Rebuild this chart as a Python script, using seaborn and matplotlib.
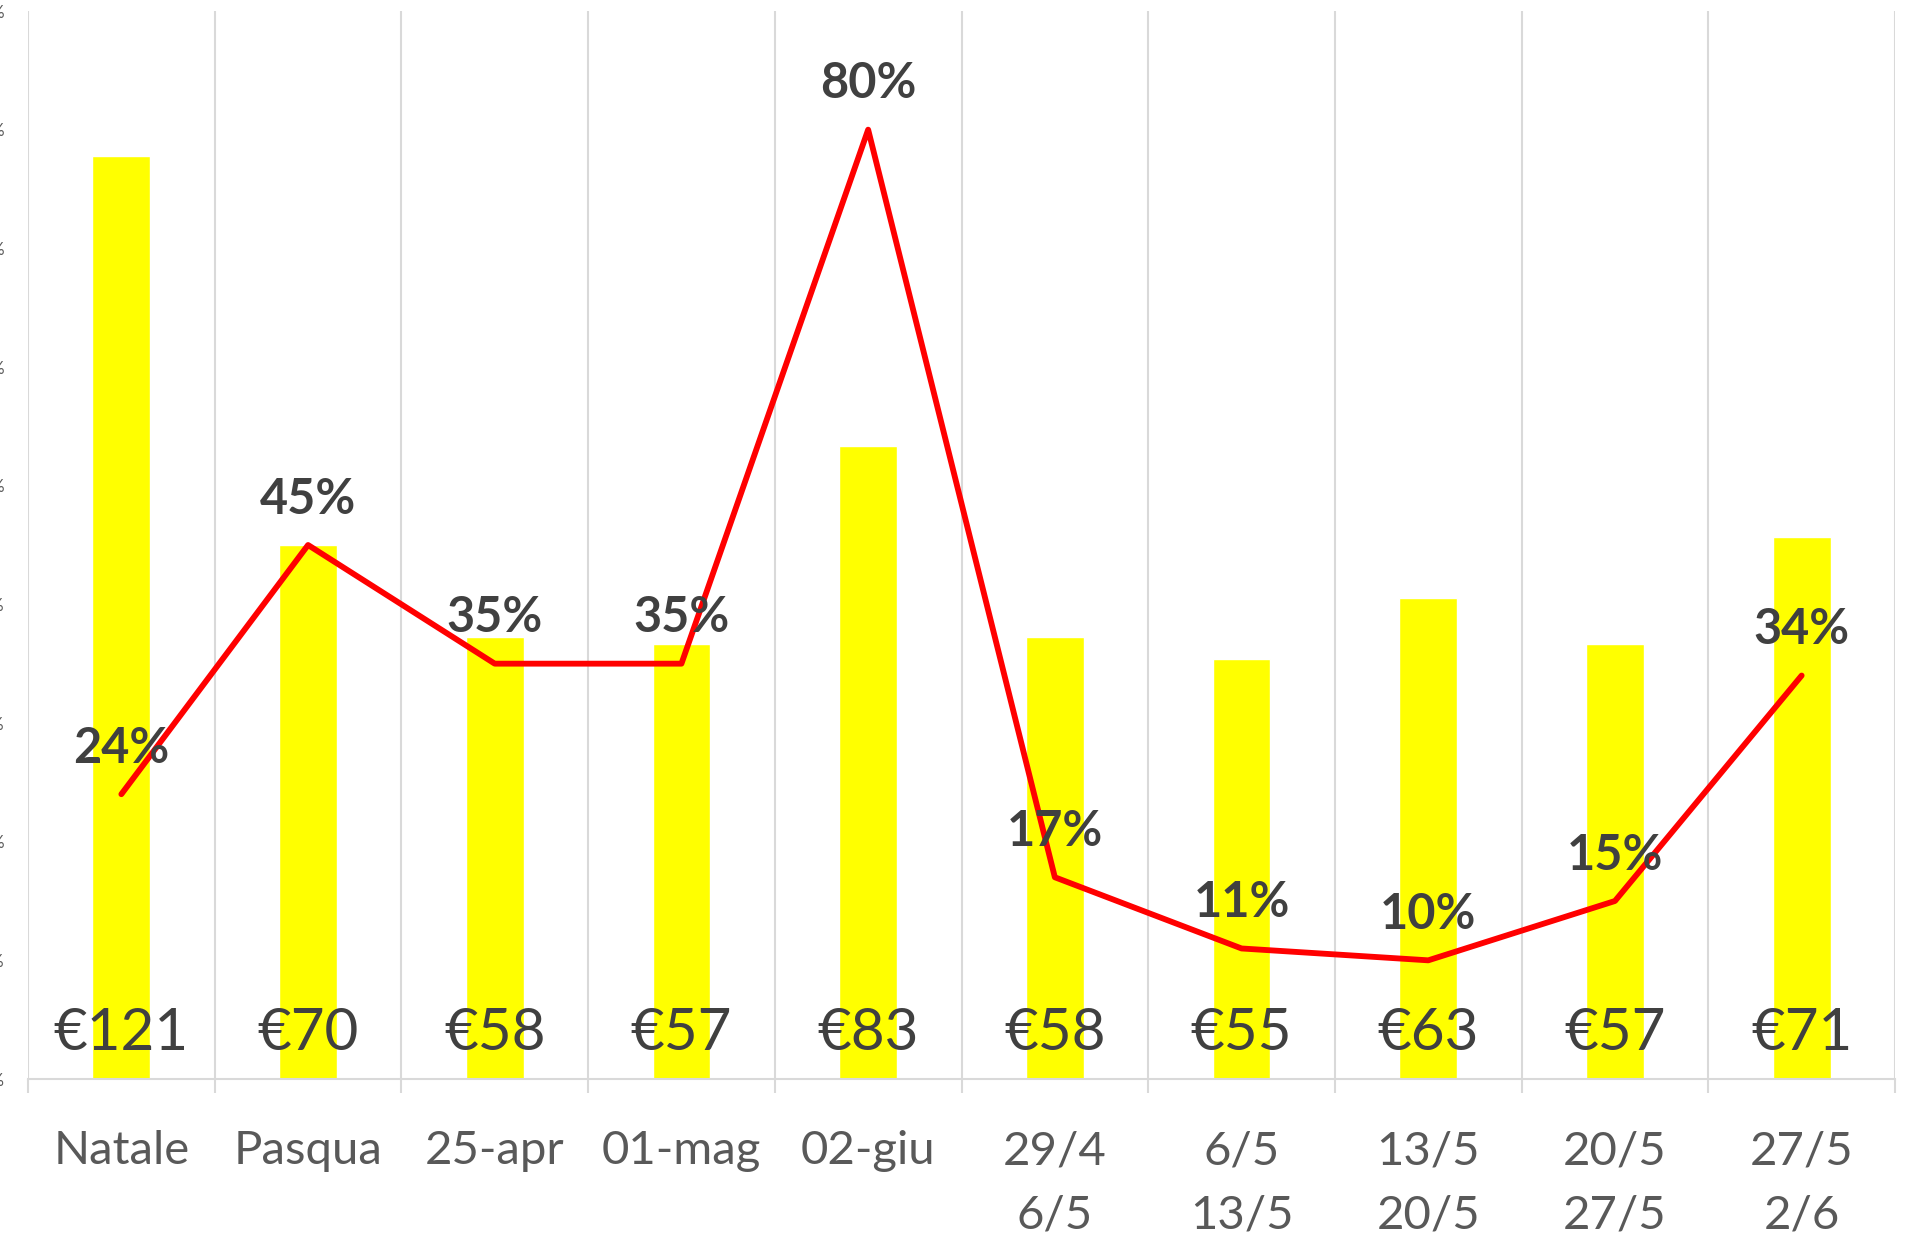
import numpy as np
import pandas as pd
import matplotlib
matplotlib.use('Agg')
import matplotlib.pyplot as plt
import seaborn as sns
from matplotlib.ticker import FixedLocator, PercentFormatter

# dati
categorie = ["Natale", "Pasqua", "25-apr", "01-mag", "02-giu",
             "29/4\n6/5", "6/5\n13/5", "13/5\n20/5", "20/5\n27/5", "27/5\n2/6"]
prezzo_eur = [121, 70, 58, 57, 83, 58, 55, 63, 57, 71]
percentuale = [24, 45, 35, 35, 80, 17, 11, 10, 15, 34]

df = pd.DataFrame({"cat": categorie, "eur": prezzo_eur, "pct": percentuale})
df["pos"] = df.index

sns.set_style("white")
plt.rcParams['font.family'] = ['Lato', 'DejaVu Sans']

W, H = 1905, 1238
fig = plt.figure(figsize=(W / 100, H / 100), dpi=100)
ax = fig.add_axes([28 / W, 1 - 1079 / H, (1895 - 28) / W, (1079 - 11) / H])

# barre (asse euro, nascosto)
sns.barplot(data=df, x="cat", y="eur", color="#FFFF00", width=0.31,
            saturation=1, ax=ax, zorder=2)
ax.set_ylim(0, 140)
ax.set_xlim(-0.5, len(categorie) - 0.5)
ax.set_yticks([])
ax.set_xlabel("")
ax.set_ylabel("")

for i, v in enumerate(prezzo_eur):
    ax.annotate("€" + str(v), (i, 0), xytext=(0, 33), textcoords="offset points",
                ha="center", va="center", fontsize=42, color="#404040", zorder=5)

# linea percentuale (asse a sinistra)
ax2 = ax.twinx()
sns.lineplot(data=df, x="pos", y="pct", color="#FF0000", linewidth=4.2,
             ax=ax2, zorder=4)
ax2.set_ylim(0, 90)
ax2.yaxis.tick_left()
ax2.yaxis.set_label_position("left")
ax2.yaxis.set_major_locator(FixedLocator(np.arange(0, 91, 10)))
ax2.yaxis.set_major_formatter(PercentFormatter(decimals=0))
ax2.tick_params(axis="y", length=0, pad=17, labelsize=12, labelcolor="#595959")
ax2.set_xlabel("")
ax2.set_ylabel("")
ax2.set_xlim(-0.5, len(categorie) - 0.5)

for i, v in enumerate(percentuale):
    ax2.annotate(str(v) + "%", (i, v), xytext=(0, 33), textcoords="offset points",
                 ha="center", va="center", fontsize=35, fontweight="bold",
                 color="#404040", zorder=6)

# griglia verticale tra le categorie
ax.set_xticks(np.arange(-0.5, len(categorie), 1), minor=True)
ax.grid(False)
ax.grid(True, which="minor", axis="x", color="#D9D9D9", linewidth=1.5, zorder=0)
ax.tick_params(axis="x", which="minor", length=10, width=1.5, color="#D9D9D9",
               direction="out", bottom=True)
ax.tick_params(axis="x", which="major", length=0, pad=37, labelsize=34,
               labelcolor="#595959")
for lab in ax.get_xticklabels():
    lab.set_linespacing(1.65)

for sp in ["top", "right", "left"]:
    ax.spines[sp].set_visible(False)
    ax2.spines[sp].set_visible(False)
ax2.spines["bottom"].set_visible(False)
ax.spines["bottom"].set_color("#D9D9D9")
ax.spines["bottom"].set_linewidth(1.5)

fig.savefig("out.png", dpi=100)
